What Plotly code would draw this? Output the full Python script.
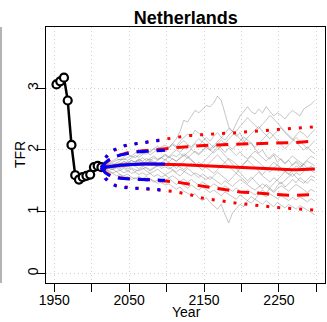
import plotly.graph_objects as go

# ---------------- data ----------------
obs_years = [1953, 1958, 1963, 1968, 1973, 1978, 1983, 1988, 1993, 1998, 2003, 2008, 2013]
obs_tfr = [3.06, 3.11, 3.17, 2.80, 2.08, 1.59, 1.52, 1.56, 1.58, 1.60, 1.72, 1.74, 1.72]

proj_years = list(range(2013, 2299, 5))  # 58 periods
blue_years = proj_years[:18]

median = [1.71, 1.72, 1.73, 1.74, 1.745, 1.75, 1.755, 1.76, 1.76, 1.765,
          1.765, 1.77, 1.77, 1.77, 1.77, 1.772, 1.772, 1.772, 1.77, 1.768,
          1.765, 1.762, 1.76, 1.757, 1.754, 1.75, 1.748, 1.745, 1.742, 1.74,
          1.737, 1.735, 1.732, 1.73, 1.727, 1.724, 1.72, 1.716, 1.712, 1.708,
          1.704, 1.70, 1.696, 1.692, 1.688, 1.685, 1.682, 1.68, 1.678, 1.677,
          1.677, 1.678, 1.68, 1.682, 1.684, 1.686, 1.688, 1.69]
upper80 = [1.71, 1.78, 1.83, 1.87, 1.90, 1.92, 1.94, 1.955, 1.965, 1.975,
           1.98, 1.985, 1.99, 1.995, 2.0, 2.0, 2.005, 2.01, 2.02, 2.03,
           2.04, 2.045, 2.05, 2.055, 2.06, 2.06, 2.065, 2.07, 2.07, 2.075,
           2.08, 2.08, 2.085, 2.085, 2.09, 2.09, 2.09, 2.095, 2.095, 2.10,
           2.10, 2.10, 2.105, 2.105, 2.11, 2.11, 2.11, 2.11, 2.11, 2.115,
           2.115, 2.12, 2.12, 2.125, 2.13, 2.135, 2.14, 2.145]
lower80 = [1.71, 1.64, 1.60, 1.57, 1.555, 1.545, 1.54, 1.535, 1.53, 1.525,
           1.525, 1.52, 1.52, 1.515, 1.515, 1.51, 1.51, 1.505, 1.50, 1.49,
           1.48, 1.47, 1.46, 1.45, 1.44, 1.435, 1.43, 1.42, 1.41, 1.40,
           1.39, 1.38, 1.37, 1.36, 1.35, 1.34, 1.33, 1.32, 1.315, 1.31,
           1.305, 1.30, 1.295, 1.29, 1.285, 1.28, 1.275, 1.27, 1.27, 1.268,
           1.266, 1.265, 1.265, 1.266, 1.268, 1.27, 1.272, 1.275]
upper95 = [1.71, 1.86, 1.93, 1.98, 2.01, 2.04, 2.06, 2.08, 2.09, 2.10,
           2.11, 2.12, 2.13, 2.14, 2.15, 2.155, 2.16, 2.17, 2.18, 2.19,
           2.20, 2.21, 2.22, 2.23, 2.235, 2.24, 2.245, 2.25, 2.25, 2.255,
           2.26, 2.26, 2.265, 2.27, 2.27, 2.275, 2.28, 2.285, 2.29, 2.295,
           2.30, 2.305, 2.31, 2.315, 2.32, 2.325, 2.33, 2.33, 2.335, 2.34,
           2.345, 2.35, 2.355, 2.36, 2.365, 2.37, 2.37, 2.375]
lower95 = [1.71, 1.55, 1.49, 1.45, 1.42, 1.41, 1.40, 1.39, 1.385, 1.38,
           1.38, 1.375, 1.37, 1.37, 1.365, 1.36, 1.355, 1.35, 1.34, 1.33,
           1.32, 1.31, 1.30, 1.29, 1.27, 1.25, 1.23, 1.22, 1.21, 1.20,
           1.19, 1.18, 1.17, 1.16, 1.15, 1.145, 1.14, 1.13, 1.125, 1.12,
           1.115, 1.11, 1.105, 1.10, 1.09, 1.08, 1.07, 1.065, 1.06, 1.06,
           1.055, 1.05, 1.05, 1.045, 1.04, 1.035, 1.03, 1.025]

blue_median = [1.71, 1.72, 1.73, 1.74, 1.745, 1.75, 1.755, 1.76, 1.76, 1.765,
               1.765, 1.77, 1.77, 1.77, 1.77, 1.772, 1.772, 1.772]
blue_upper80 = [1.71, 1.79, 1.84, 1.87, 1.895, 1.915, 1.93, 1.945, 1.955, 1.965,
                1.97, 1.975, 1.98, 1.985, 1.99, 1.99, 1.995, 1.995]
blue_lower80 = [1.71, 1.63, 1.59, 1.565, 1.55, 1.54, 1.535, 1.53, 1.525, 1.52,
                1.52, 1.515, 1.515, 1.515, 1.51, 1.51, 1.51, 1.51]
blue_upper95 = [1.71, 1.87, 1.94, 1.99, 2.02, 2.045, 2.065, 2.08, 2.09, 2.10,
                2.11, 2.12, 2.13, 2.14, 2.145, 2.15, 2.155, 2.16]
blue_lower95 = [1.71, 1.54, 1.48, 1.44, 1.415, 1.40, 1.39, 1.385, 1.38, 1.38,
                1.375, 1.375, 1.37, 1.37, 1.365, 1.36, 1.355, 1.35]

trajectories = [
    [1.71, 1.74, 1.78, 1.80, 1.83, 1.85, 1.84, 1.88, 1.90, 1.87,
     1.92, 1.95, 1.93, 1.98, 2.02, 1.99, 2.05, 2.08, 2.04, 2.10,
     2.18, 2.30, 2.48, 2.45, 2.55, 2.64, 2.60, 2.66, 2.72, 2.70,
     2.76, 2.87, 2.80, 2.59, 2.37, 2.30, 2.22, 2.28, 2.15, 2.08,
     2.12, 2.02, 1.95, 2.00, 1.90, 1.85, 1.92, 1.80, 1.86, 1.78,
     1.83, 1.75, 1.80, 1.72, 1.77, 1.70, 1.74, 1.68],
    [1.71, 1.70, 1.73, 1.76, 1.74, 1.78, 1.81, 1.79, 1.83, 1.80,
     1.84, 1.87, 1.83, 1.86, 1.90, 1.85, 1.88, 1.93, 1.89, 1.95,
     2.00, 1.96, 2.03, 2.08, 2.02, 2.10, 2.06, 2.15, 2.20, 2.14,
     2.22, 2.28, 2.20, 2.26, 2.35, 2.30, 2.42, 2.55, 2.62, 2.70,
     2.62, 2.58, 2.66, 2.60, 2.70, 2.62, 2.55, 2.60, 2.56, 2.50,
     2.58, 2.64, 2.60, 2.55, 2.66, 2.70, 2.74, 2.80],
    [1.71, 1.68, 1.66, 1.63, 1.65, 1.60, 1.58, 1.61, 1.56, 1.53,
     1.57, 1.52, 1.49, 1.53, 1.50, 1.46, 1.48, 1.43, 1.45, 1.40,
     1.36, 1.40, 1.33, 1.30, 1.26, 1.29, 1.22, 1.18, 1.23, 1.15,
     1.10, 1.04, 1.12, 0.95, 0.82, 0.98, 1.05, 1.12, 1.08, 1.18,
     1.24, 1.20, 1.28, 1.35, 1.30, 1.38, 1.33, 1.42, 1.48, 1.40,
     1.45, 1.52, 1.47, 1.55, 1.50, 1.46, 1.53, 1.49],
    [1.71, 1.73, 1.75, 1.72, 1.76, 1.78, 1.74, 1.77, 1.80, 1.76,
     1.79, 1.74, 1.78, 1.82, 1.77, 1.73, 1.79, 1.84, 1.80, 1.75,
     1.70, 1.76, 1.82, 1.88, 1.83, 1.78, 1.72, 1.67, 1.74, 1.80,
     1.86, 1.92, 1.85, 1.79, 1.74, 1.68, 1.62, 1.70, 1.77, 1.83,
     1.78, 1.72, 1.66, 1.60, 1.67, 1.73, 1.80, 1.75, 1.69, 1.64,
     1.70, 1.76, 1.82, 1.77, 1.71, 1.66, 1.72, 1.68],
    [1.71, 1.69, 1.64, 1.62, 1.58, 1.60, 1.55, 1.57, 1.52, 1.55,
     1.50, 1.53, 1.57, 1.52, 1.48, 1.51, 1.46, 1.50, 1.54, 1.49,
     1.44, 1.47, 1.42, 1.38, 1.43, 1.39, 1.35, 1.40, 1.36, 1.31,
     1.35, 1.30, 1.26, 1.32, 1.28, 1.24, 1.20, 1.27, 1.22, 1.18,
     1.14, 1.20, 1.16, 1.12, 1.18, 1.13, 1.08, 1.15, 1.11, 1.06,
     1.12, 1.08, 1.04, 1.10, 1.06, 1.02, 0.98, 0.95],
    [1.71, 1.75, 1.79, 1.83, 1.86, 1.84, 1.89, 1.93, 1.90, 1.95,
     1.98, 1.94, 2.00, 1.96, 2.02, 2.06, 2.01, 1.97, 2.03, 2.08,
     2.04, 2.10, 2.15, 2.09, 2.05, 2.12, 2.18, 2.13, 2.08, 2.02,
     2.07, 2.14, 2.20, 2.16, 2.24, 2.30, 2.25, 2.18, 2.12, 2.20,
     2.26, 2.32, 2.38, 2.30, 2.24, 2.18, 2.25, 2.31, 2.36, 2.28,
     2.22, 2.16, 2.24, 2.30, 2.26, 2.20, 2.27, 2.33],
    [1.71, 1.72, 1.70, 1.68, 1.71, 1.67, 1.70, 1.66, 1.69, 1.65,
     1.68, 1.71, 1.66, 1.62, 1.65, 1.69, 1.64, 1.60, 1.63, 1.67,
     1.62, 1.58, 1.64, 1.70, 1.65, 1.60, 1.55, 1.61, 1.57, 1.52,
     1.58, 1.64, 1.59, 1.54, 1.49, 1.56, 1.62, 1.57, 1.51, 1.46,
     1.52, 1.58, 1.64, 1.58, 1.53, 1.48, 1.55, 1.50, 1.45, 1.51,
     1.57, 1.62, 1.56, 1.50, 1.46, 1.52, 1.58, 1.55],
    [1.71, 1.74, 1.77, 1.75, 1.79, 1.82, 1.86, 1.83, 1.87, 1.91,
     1.88, 1.93, 1.97, 1.92, 1.96, 2.01, 1.96, 2.00, 2.05, 2.10,
     2.06, 2.14, 2.20, 2.26, 2.21, 2.32, 2.27, 2.22, 2.15, 2.10,
     2.04, 2.09, 2.02, 1.96, 2.03, 1.97, 1.91, 1.97, 1.90, 1.86,
     1.92, 1.98, 1.93, 1.87, 1.82, 1.88, 1.94, 1.89, 1.83, 1.78,
     1.84, 1.90, 1.85, 1.80, 1.76, 1.82, 1.78, 1.74],
    [1.71, 1.73, 1.71, 1.74, 1.72, 1.76, 1.73, 1.77, 1.75, 1.79,
     1.82, 1.78, 1.81, 1.85, 1.81, 1.77, 1.73, 1.76, 1.72, 1.68,
     1.64, 1.69, 1.65, 1.61, 1.58, 1.63, 1.59, 1.55, 1.52, 1.57,
     1.53, 1.49, 1.44, 1.50, 1.46, 1.41, 1.47, 1.52, 1.48, 1.43,
     1.39, 1.35, 1.40, 1.45, 1.41, 1.36, 1.31, 1.37, 1.42, 1.38,
     1.33, 1.39, 1.44, 1.40, 1.35, 1.31, 1.36, 1.32],
    [1.71, 1.70, 1.72, 1.69, 1.73, 1.71, 1.75, 1.72, 1.76, 1.73,
     1.70, 1.74, 1.70, 1.66, 1.70, 1.74, 1.79, 1.75, 1.80, 1.86,
     1.81, 1.88, 1.94, 1.90, 1.84, 1.78, 1.73, 1.79, 1.85, 1.92,
     1.98, 2.05, 1.98, 1.90, 1.84, 1.77, 1.70, 1.63, 1.57, 1.50,
     1.56, 1.49, 1.43, 1.37, 1.44, 1.39, 1.46, 1.52, 1.58, 1.65,
     1.60, 1.68, 1.74, 1.70, 1.78, 1.84, 1.90, 1.86],
    [1.71, 1.70, 1.67, 1.69, 1.65, 1.67, 1.63, 1.66, 1.62, 1.64,
     1.60, 1.63, 1.59, 1.62, 1.57, 1.60, 1.56, 1.59, 1.55, 1.58,
     1.54, 1.49, 1.53, 1.48, 1.52, 1.47, 1.43, 1.48, 1.44, 1.40,
     1.45, 1.41, 1.37, 1.42, 1.38, 1.33, 1.38, 1.34, 1.30, 1.35,
     1.31, 1.27, 1.32, 1.28, 1.24, 1.29, 1.25, 1.21, 1.26, 1.22,
     1.18, 1.23, 1.19, 1.24, 1.20, 1.16, 1.21, 1.17],
    [1.71, 1.73, 1.76, 1.78, 1.75, 1.79, 1.77, 1.81, 1.78, 1.82,
     1.85, 1.82, 1.86, 1.83, 1.87, 1.84, 1.88, 1.91, 1.87, 1.92,
     1.89, 1.94, 1.90, 1.96, 2.01, 1.96, 1.92, 1.98, 2.04, 2.00,
     1.95, 2.01, 2.07, 2.12, 2.06, 2.01, 2.08, 2.15, 2.21, 2.16,
     2.10, 2.04, 2.10, 2.17, 2.23, 2.29, 2.22, 2.15, 2.09, 2.02,
     2.08, 2.14, 2.20, 2.14, 2.08, 2.02, 2.09, 2.15],
    [1.71, 1.72, 1.74, 1.71, 1.73, 1.70, 1.72, 1.69, 1.71, 1.68,
     1.66, 1.69, 1.72, 1.68, 1.71, 1.75, 1.70, 1.73, 1.69, 1.72,
     1.76, 1.72, 1.68, 1.73, 1.78, 1.74, 1.80, 1.76, 1.71, 1.67,
     1.62, 1.68, 1.74, 1.80, 1.86, 1.82, 1.77, 1.72, 1.78, 1.84,
     1.90, 1.85, 1.80, 1.74, 1.69, 1.64, 1.70, 1.76, 1.71, 1.66,
     1.61, 1.57, 1.63, 1.59, 1.65, 1.71, 1.67, 1.63],
    [1.71, 1.74, 1.72, 1.76, 1.79, 1.77, 1.81, 1.79, 1.83, 1.80,
     1.84, 1.81, 1.78, 1.82, 1.79, 1.83, 1.87, 1.84, 1.89, 1.85,
     1.82, 1.86, 1.91, 1.87, 1.93, 1.98, 1.94, 2.00, 2.05, 1.99,
     2.04, 2.10, 2.16, 2.10, 2.18, 2.24, 2.30, 2.38, 2.45, 2.52,
     2.46, 2.40, 2.34, 2.42, 2.48, 2.56, 2.50, 2.44, 2.36, 2.30,
     2.24, 2.18, 2.12, 2.06, 2.00, 2.05, 1.98, 1.94],
]

x_ticks = [1950, 2000, 2050, 2100, 2150, 2200, 2250, 2300]
x_ticklabels = ["1950", "", "2050", "", "2150", "", "2250", ""]
y_ticks = [0, 1, 2, 3]
y_ticklabels = ["0", "1", "2", "3"]

# ---------------- figure ----------------
W, H = 327, 322
ML, MR, MT, MB = 46, 2, 27, 39
PW, PH = W - ML - MR, H - MT - MB

fig = go.Figure()

traj_color = "rgba(105,105,105,0.38)"
for t in trajectories:
    n = min(len(t), len(proj_years))
    fig.add_trace(go.Scatter(x=proj_years[:n], y=t[:n], mode="lines",
                             line=dict(color=traj_color, width=1),
                             hoverinfo="skip", showlegend=False))

fig.add_trace(go.Scatter(x=obs_years, y=obs_tfr, mode="lines+markers",
                         line=dict(color="black", width=2.5),
                         marker=dict(symbol="circle", size=8, color="white",
                                     line=dict(color="black", width=2.2)),
                         showlegend=False))

red = "#ff0000"
blue = "#0000ff"
dash_style = "12px,8px"
dot_style = "3px,8px"
lw = 3

for ys, d in [(upper95, dot_style), (lower95, dot_style),
              (upper80, dash_style), (lower80, dash_style), (median, "solid")]:
    fig.add_trace(go.Scatter(x=proj_years, y=ys, mode="lines",
                             line=dict(color=red, width=lw, dash=d),
                             showlegend=False))

for ys, d in [(blue_upper95, dot_style), (blue_lower95, dot_style),
              (blue_upper80, dash_style), (blue_lower80, dash_style), (blue_median, "solid")]:
    fig.add_trace(go.Scatter(x=blue_years, y=ys, mode="lines",
                             line=dict(color=blue, width=lw, dash=d),
                             showlegend=False))

font_fam = "Liberation Sans, Arial, Helvetica, sans-serif"

fig.update_layout(
    width=W, height=H,
    margin=dict(l=ML, r=MR, t=MT, b=MB, autoexpand=False),
    paper_bgcolor="white", plot_bgcolor="white",
    font=dict(family=font_fam, color="black", size=14),
    title=dict(text="<b>Netherlands</b>", x=0.568, xanchor="center",
               y=1 - 18 / H, yanchor="middle", yref="container",
               font=dict(size=18, family=font_fam, color="black")),
    showlegend=False,
)

fig.update_xaxes(
    range=[1939, 2311.5], automargin=False,
    tickmode="array", tickvals=x_ticks, ticktext=x_ticklabels,
    ticks="outside", ticklen=8, tickwidth=1, tickcolor="black",
    ticklabelstandoff=-4,
    showline=True, linecolor="black", linewidth=1, mirror=True,
    showgrid=True, gridcolor="#d0d0d0", griddash="1px,3px", gridwidth=1,
    zeroline=False, tickfont=dict(size=14),
)
fig.update_yaxes(
    range=[-0.155, 3.99], automargin=False,
    tickmode="array", tickvals=y_ticks, ticktext=y_ticklabels,
    ticks="outside", ticklen=8, tickwidth=1, tickcolor="black",
    tickangle=-90, ticklabelstandoff=-7,
    showline=True, linecolor="black", linewidth=1, mirror=True,
    showgrid=True, gridcolor="#d0d0d0", griddash="1px,3px", gridwidth=1,
    zeroline=False, tickfont=dict(size=14),
)

# axis titles as annotations (pixel-placed)
fig.add_annotation(text="Year", xref="paper", yref="paper",
                   x=(186 - ML) / PW, y=(MT + PH - 312) / PH,
                   xanchor="center", yanchor="middle", showarrow=False,
                   font=dict(size=14))
fig.add_annotation(text="TFR", xref="paper", yref="paper",
                   x=(20 - ML) / PW, y=0.5, textangle=-90,
                   xanchor="center", yanchor="middle", showarrow=False,
                   font=dict(size=14))

fig.add_shape(type="line", xref="paper", yref="paper",
              x0=-45 / PW, x1=-45 / PW, y0=0, y1=1,
              line=dict(color="#9a9a9a", width=1.5))

fig.write_html("out.html", config={"displayModeBar": False},
               post_script="document.body.style.margin='0px';document.body.style.overflow='hidden';")
